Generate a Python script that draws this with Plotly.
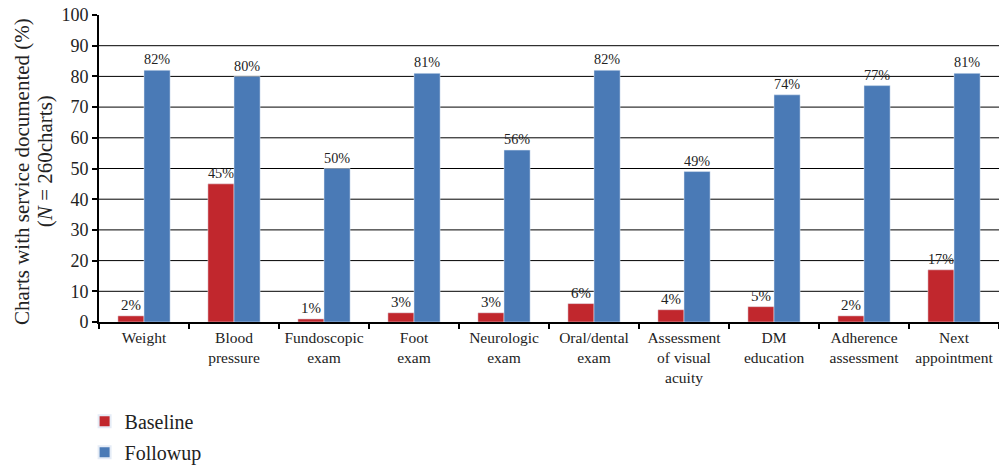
import plotly.graph_objects as go

categories = ["Weight", "Blood<br>pressure", "Fundoscopic<br>exam", "Foot<br>exam",
              "Neurologic<br>exam", "Oral/dental<br>exam", "Assessment<br>of visual<br>acuity",
              "DM<br>education", "Adherence<br>assessment", "Next<br>appointment"]
baseline = [2, 45, 1, 3, 3, 6, 4, 5, 2, 17]
followup = [82, 80, 50, 81, 56, 82, 49, 74, 77, 81]
y_ticks = list(range(0, 101, 10))
grid_values = list(range(10, 100, 10))
title_lines = ["Charts with service documented (%)", "(<i>N</i> = 260charts)"]

FONT = "Liberation Serif"
RED = "#C1272D"
BLUE = "#4A7AB6"

fig = go.Figure()
fig.add_trace(go.Bar(name="Baseline", x=categories, y=baseline, marker_color=RED,
                     legendgroup="a",
                     text=[f"{v}%" for v in baseline], textposition="outside",
                     textfont=dict(family=FONT, size=15, color="#222"), cliponaxis=False))
fig.add_trace(go.Bar(name="Followup", x=categories, y=followup, marker_color=BLUE,
                     legendgroup="b",
                     text=[f"{v}%" for v in followup], textposition="outside",
                     textfont=dict(family=FONT, size=15, color="#222"), cliponaxis=False))

for g in grid_values:
    fig.add_shape(type="line", xref="paper", x0=0, x1=1, yref="y", y0=g, y1=g,
                  line=dict(color="black", width=1), layer="below")

fig.add_annotation(text=title_lines[0], xref="paper", yref="paper", x=-0.0856, y=0.492,
                   textangle=-90, showarrow=False, xanchor="center", yanchor="middle",
                   font=dict(family=FONT, size=21, color="#222"))
fig.add_annotation(text=title_lines[1], xref="paper", yref="paper", x=-0.06, y=0.524,
                   textangle=-90, showarrow=False, xanchor="center", yanchor="middle",
                   font=dict(family=FONT, size=21, color="#222"))

fig.update_layout(
    width=999, height=465,
    margin=dict(l=99, r=0, t=15, b=143, autoexpand=False),
    paper_bgcolor="white", plot_bgcolor="white",
    barmode="group", bargap=0.42, bargroupgap=0,
    font=dict(family=FONT, color="#222"),
    showlegend=True,
    legend=dict(x=-0.016, y=-0.2595, xanchor="left", yanchor="top", orientation="v",
                font=dict(family=FONT, size=20, color="#222"), tracegroupgap=2,
                itemsizing="constant"),
)
fig.update_xaxes(showline=True, linecolor="black", linewidth=2, ticks="outside",
                 tickson="boundaries", ticklen=5, tickwidth=2, tickcolor="black",
                 tickfont=dict(family=FONT, size=15.5, color="#222"), showgrid=False,
                 automargin=False, ticklabeloverflow="allow")
fig.update_yaxes(range=[0, 100], tickvals=y_ticks, showline=True, linecolor="black",
                 linewidth=2, ticks="outside", ticklen=5, tickwidth=2, tickcolor="black",
                 tickfont=dict(family=FONT, size=18, color="#222"), showgrid=False,
                 zeroline=False, automargin=False, ticklabeloverflow="allow")

fig.write_html("out.html", config={"displayModeBar": False},
               post_script="document.body.style.margin='0';")
